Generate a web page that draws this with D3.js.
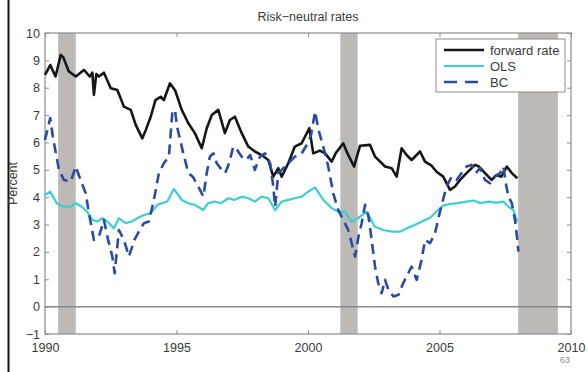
<!DOCTYPE html>
<html>
<head>
<meta charset="utf-8">
<script src="https://cdn.jsdelivr.net/npm/d3@7/dist/d3.min.js"></script>
<style>
  html, body { margin: 0; padding: 0; background: #fff; }
  svg { display: block; font-family: "Liberation Sans", Arial, Helvetica, sans-serif; }
</style>
</head>
<body>
<svg id="chart" width="588" height="372"></svg>
<script>
// Risk-neutral rates, percent, sampled in decimal years
const fwdYears = [1990.0,1990.2,1990.4,1990.6,1990.7,1990.9,1991.17,1991.48,1991.7,1991.8,1991.86,1991.95,1992.05,1992.24,1992.5,1992.75,1993.0,1993.26,1993.45,1993.7,1993.83,1994.02,1994.2,1994.4,1994.52,1994.75,1994.95,1995.2,1995.45,1995.7,1995.96,1996.15,1996.34,1996.59,1996.84,1997.03,1997.22,1997.48,1997.73,1997.98,1998.24,1998.49,1998.68,1998.87,1999.0,1999.25,1999.5,1999.76,2000.05,2000.2,2000.45,2000.65,2000.9,2001.05,2001.34,2001.5,2001.75,2001.98,2002.36,2002.55,2002.93,2003.18,2003.37,2003.56,2003.75,2003.94,2004.26,2004.45,2004.7,2004.89,2005.14,2005.4,2005.59,2005.78,2006.03,2006.35,2006.5,2006.73,2006.98,2007.17,2007.35,2007.56,2007.75,2007.96];
const fwdValues = [8.47,8.83,8.41,9.2,9.1,8.6,8.41,8.65,8.41,8.55,7.74,8.5,8.41,8.55,7.98,7.92,7.31,7.19,6.64,6.15,6.45,6.94,7.55,7.67,7.55,8.16,7.9,7.19,6.7,6.34,5.79,6.52,7.0,7.19,6.34,6.82,6.94,6.34,5.85,5.67,5.54,5.36,4.75,5.06,4.75,5.24,5.85,5.97,6.52,5.6,5.7,5.6,5.3,5.6,5.97,5.6,5.12,5.88,5.91,5.48,5.12,5.06,4.75,5.79,5.54,5.36,5.67,5.3,5.15,4.93,4.75,4.27,4.39,4.63,4.88,5.18,5.12,4.88,4.63,4.81,4.75,5.12,4.88,4.69];

const olsYears = [1990.0,1990.2,1990.45,1990.7,1990.96,1991.17,1991.4,1991.6,1991.8,1991.99,1992.18,1992.37,1992.62,1992.81,1993.07,1993.3,1993.51,1993.76,1994.02,1994.27,1994.45,1994.65,1994.9,1995.2,1995.45,1995.7,1996.02,1996.2,1996.46,1996.7,1996.97,1997.2,1997.48,1997.73,1997.98,1998.24,1998.49,1998.75,1999.0,1999.25,1999.5,1999.76,2000.01,2000.27,2000.58,2000.9,2001.15,2001.4,2001.66,2001.9,2002.23,2002.55,2002.86,2003.2,2003.5,2003.75,2004.07,2004.33,2004.64,2004.95,2005.15,2005.4,2005.7,2006.03,2006.3,2006.55,2006.9,2007.15,2007.43,2007.62,2007.81,2007.96];
const olsValues = [4.08,4.2,3.78,3.65,3.65,3.78,3.65,3.47,3.17,3.11,3.23,3.11,2.86,3.23,3.05,3.11,3.23,3.35,3.41,3.72,3.78,3.84,4.3,3.9,3.78,3.72,3.53,3.78,3.84,3.78,3.96,3.9,4.02,3.96,3.84,4.02,3.96,3.53,3.84,3.9,3.96,4.02,4.2,4.36,3.9,3.6,3.47,3.47,3.11,3.23,3.47,2.92,2.8,2.74,2.74,2.86,2.99,3.11,3.25,3.53,3.7,3.75,3.78,3.84,3.88,3.78,3.84,3.8,3.84,3.65,3.53,3.11];

const bcYears = [1990.0,1990.1,1990.2,1990.3,1990.53,1990.72,1990.98,1991.17,1991.35,1991.55,1991.67,1991.86,1992.05,1992.24,1992.4,1992.56,1992.65,1992.81,1993.0,1993.19,1993.4,1993.6,1993.76,1993.95,1994.14,1994.33,1994.52,1994.71,1994.84,1994.94,1995.02,1995.26,1995.45,1995.62,1995.83,1996.02,1996.15,1996.27,1996.4,1996.53,1996.72,1996.85,1997.0,1997.16,1997.3,1997.48,1997.65,1997.8,1997.98,1998.17,1998.37,1998.56,1998.68,1998.75,1998.87,1999.0,1999.25,1999.5,1999.76,2000.01,2000.12,2000.27,2000.4,2000.58,2000.77,2000.96,2001.15,2001.34,2001.53,2001.66,2001.79,2001.92,2002.04,2002.17,2002.3,2002.42,2002.55,2002.67,2002.8,2002.93,2003.06,2003.25,2003.44,2003.62,2003.81,2003.94,2004.13,2004.32,2004.45,2004.64,2004.83,2004.95,2005.1,2005.27,2005.46,2005.65,2005.84,2006.03,2006.22,2006.38,2006.54,2006.73,2006.92,2007.1,2007.3,2007.43,2007.52,2007.62,2007.75,2007.87,2007.96,2008.0];
const bcValues = [6.09,6.5,6.89,6.2,5.0,4.63,4.57,5.12,4.63,4.14,3.41,2.44,2.56,3.17,2.44,1.83,1.22,2.8,2.44,1.83,2.44,2.8,3.05,3.11,3.9,4.88,5.24,5.48,7.07,7.2,6.58,5.6,4.88,4.75,4.39,4.02,4.88,5.48,5.6,5.24,5.0,4.88,5.24,5.85,5.73,5.48,5.36,5.54,5.0,5.48,5.6,5.24,4.39,3.65,4.88,5.0,5.24,5.48,5.6,6.0,6.3,7.13,6.46,5.85,5.12,4.14,3.53,3.17,2.8,2.32,1.83,2.56,3.05,3.72,3.29,2.44,1.46,0.86,0.49,0.98,0.61,0.37,0.43,0.86,1.22,1.46,0.98,1.71,2.44,2.32,2.68,3.2,3.78,4.39,4.75,4.63,4.88,5.12,5.18,4.88,5.06,4.63,4.51,4.75,4.88,5.12,4.51,4.02,3.78,3.17,2.44,2.01];

// NBER recession periods (start, end)
const recessionStart = [1990.5, 2001.23, 2007.99];
const recessionEnd = [1991.17, 2001.89, 2009.5];

const xTicks = [1990, 1995, 2000, 2005, 2010];
const yTicks = [-1, 0, 1, 2, 3, 4, 5, 6, 7, 8, 9, 10];
const seriesNames = ["forward rate", "OLS", "BC"];

const svg = d3.select("#chart");
const plotLeft = 45, plotRight = 571, plotTop = 33, plotBottom = 334;

const x = d3.scaleLinear().domain([1990, 2010]).range([plotLeft, plotRight]);
const y = d3.scaleLinear().domain([-1, 10]).range([plotBottom, plotTop]);

const axisColor = "#8c8c8c";
const textColor = "#3a3a3a";

// page edge rule at the left
svg.append("rect").attr("x", 7.5).attr("y", 0).attr("width", 2).attr("height", 372).attr("fill", "#111");

// recession shading
svg.append("g").selectAll("rect")
  .data(recessionStart.map((s, i) => [s, recessionEnd[i]]))
  .join("rect")
  .attr("x", d => x(d[0]))
  .attr("width", d => x(d[1]) - x(d[0]))
  .attr("y", plotTop)
  .attr("height", plotBottom - plotTop)
  .attr("fill", "#bdb9b6");

// zero line
svg.append("line")
  .attr("x1", plotLeft).attr("x2", plotRight)
  .attr("y1", y(0)).attr("y2", y(0))
  .attr("stroke", "#8a8a8a").attr("stroke-width", 1.5);

// axes (ticks pointing inward)
function styleAxis(g) {
  g.select(".domain").remove();
  g.selectAll(".tick line").attr("stroke", axisColor);
  g.selectAll(".tick text").attr("fill", textColor).style("font-size", "12.5px");
}
const fmt = d3.format("d");
svg.append("g").attr("transform", `translate(0,${plotBottom})`)
  .call(d3.axisBottom(x).tickValues(xTicks).tickFormat(fmt).tickSize(-4).tickPadding(9))
  .call(styleAxis);
svg.append("g").attr("transform", `translate(0,${plotTop})`)
  .call(d3.axisTop(x).tickValues(xTicks).tickFormat("").tickSize(-4))
  .call(styleAxis);
svg.append("g").attr("transform", `translate(${plotLeft},0)`)
  .call(d3.axisLeft(y).tickValues(yTicks).tickFormat(d3.format("d")).tickSize(-4).tickPadding(5))
  .call(styleAxis);
svg.append("g").attr("transform", `translate(${plotRight},0)`)
  .call(d3.axisRight(y).tickValues(yTicks).tickFormat("").tickSize(-4))
  .call(styleAxis);

// plot frame
svg.append("rect")
  .attr("x", plotLeft).attr("y", plotTop)
  .attr("width", plotRight - plotLeft).attr("height", plotBottom - plotTop)
  .attr("fill", "none").attr("stroke", axisColor).attr("stroke-width", 1.2);

// series lines
const line = d3.line().x(d => x(d[0])).y(d => y(d[1]));
const styles = [
  { color: "#161616", width: 2.6, dash: null },
  { color: "#3ccfd2", width: 2.2, dash: null },
  { color: "#2a4ba3", width: 2.6, dash: "10,6" }
];
const data = [
  fwdYears.map((t, i) => [t, fwdValues[i]]),
  olsYears.map((t, i) => [t, olsValues[i]]),
  bcYears.map((t, i) => [t, bcValues[i]])
];
// draw order: OLS, forward, BC on top
[1, 0, 2].forEach(k => {
  svg.append("path")
    .datum(data[k])
    .attr("d", line)
    .attr("fill", "none")
    .attr("stroke", styles[k].color)
    .attr("stroke-width", styles[k].width)
    .attr("stroke-linejoin", "round")
    .attr("stroke-dasharray", styles[k].dash);
});

// title and y label
svg.append("text")
  .attr("x", (plotLeft + plotRight) / 2).attr("y", 21)
  .attr("text-anchor", "middle")
  .attr("fill", textColor).style("font-size", "12.5px")
  .text("Risk\u2212neutral rates");
svg.append("text")
  .attr("transform", `translate(17,${(plotTop + plotBottom) / 2}) rotate(-90)`)
  .attr("text-anchor", "middle")
  .attr("fill", textColor).style("font-size", "12.5px")
  .text("Percent");

// legend
const lg = svg.append("g");
lg.append("rect")
  .attr("x", 436).attr("y", 39).attr("width", 129).attr("height", 53)
  .attr("fill", "#fff").attr("stroke", axisColor).attr("stroke-width", 1);
seriesNames.forEach((name, i) => {
  const yy = 50 + i * 16;
  lg.append("line")
    .attr("x1", 444).attr("x2", 484).attr("y1", yy).attr("y2", yy)
    .attr("stroke", styles[i].color).attr("stroke-width", styles[i].width)
    .attr("stroke-dasharray", styles[i].dash ? "13,8" : null);
  lg.append("text")
    .attr("x", 490).attr("y", yy + 4.5)
    .attr("fill", textColor).style("font-size", "13px")
    .text(name);
});

// page number
svg.append("text")
  .attr("x", 565).attr("y", 363)
  .attr("text-anchor", "middle")
  .attr("fill", "#8a8a8a").style("font-size", "9px")
  .text("63");
</script>
</body>
</html>
